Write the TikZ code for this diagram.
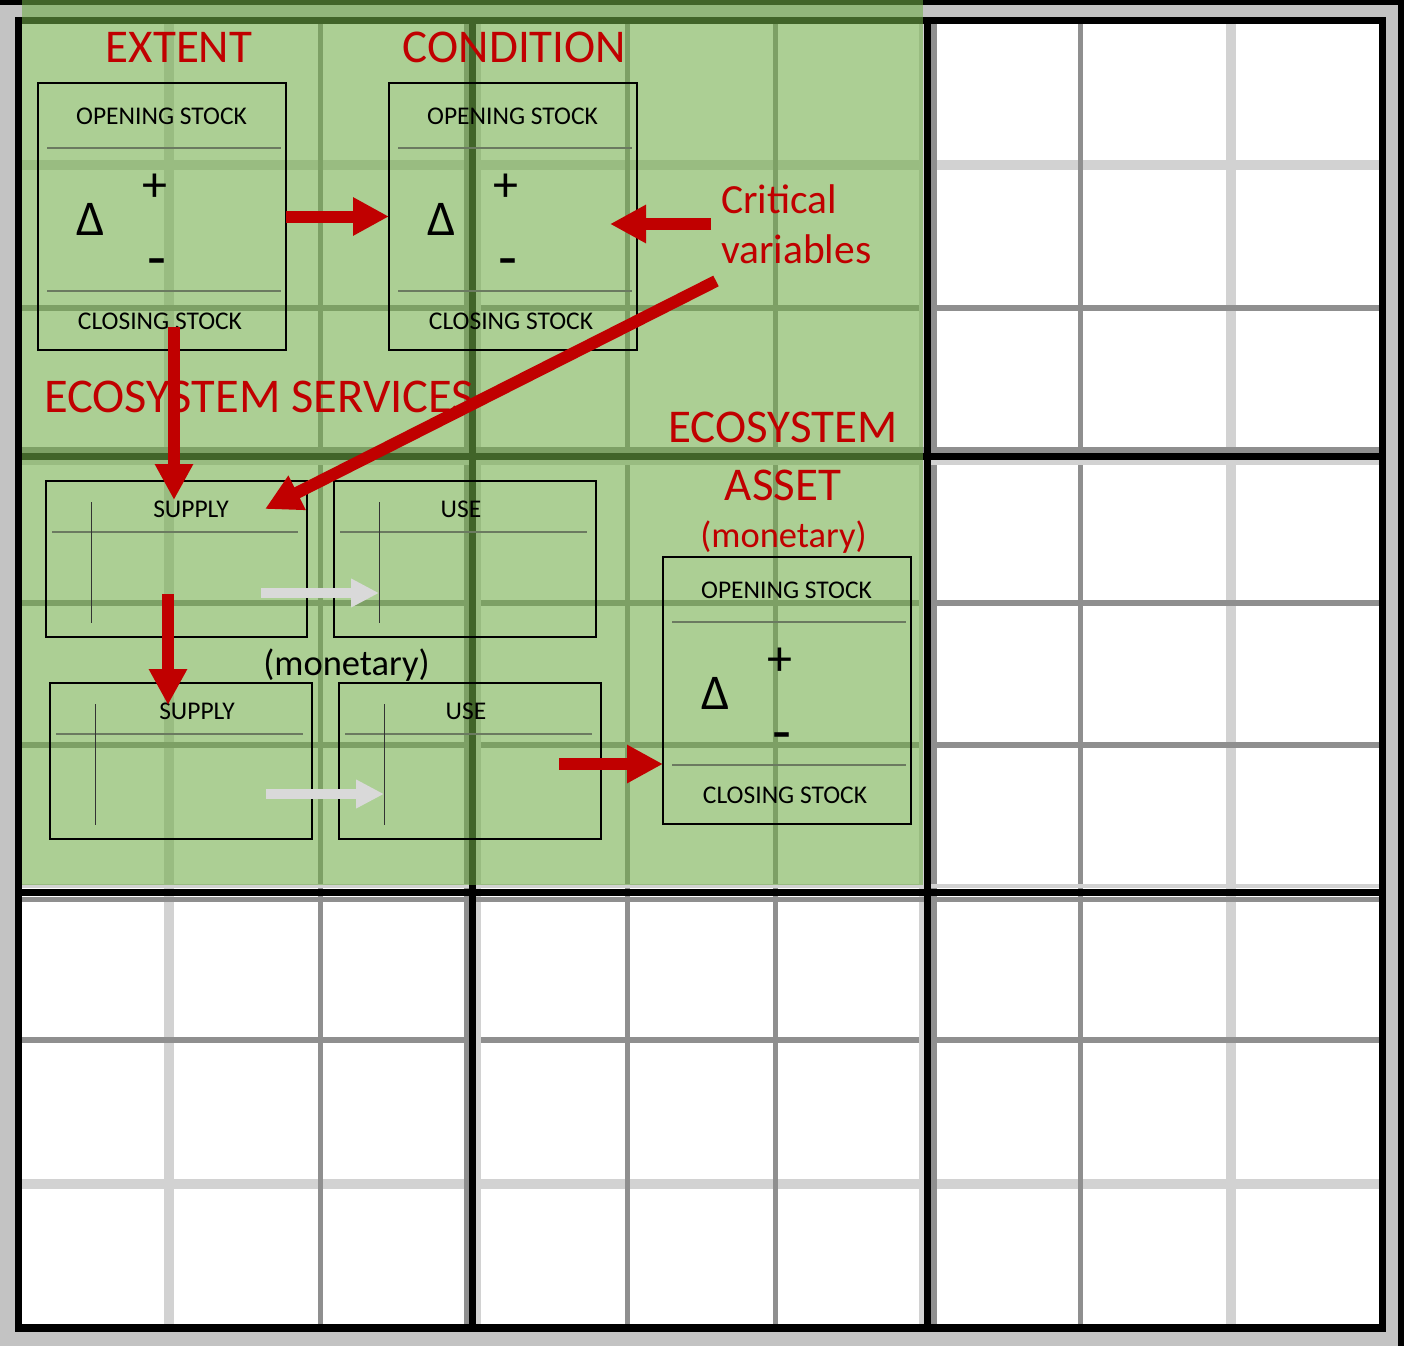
\documentclass[tikz,border=0pt]{standalone}
\usepackage{fontspec}
\setmainfont{Carlito}
\usetikzlibrary{arrows.meta,calc}
\definecolor{arrred}{HTML}{C00000}
\definecolor{framegray}{HTML}{C3C3C3}
\definecolor{midgray}{HTML}{8F8F8F}
\definecolor{lightgray2}{HTML}{D2D2D2}
\definecolor{ovgreen}{HTML}{70AD47}
\definecolor{innerln}{HTML}{6B7A60}
\definecolor{garrow}{HTML}{D9D9D9}
\tikzset{
  hd/.style={text=arrred, font=\fontsize{47}{56}\selectfont, inner sep=0pt, anchor=base},
  hdl/.style={hd, anchor=base west},
  subl/.style={text=arrred, font=\fontsize{41.5}{50}\selectfont, inner sep=0pt, anchor=base west},
  mon/.style={font=\fontsize{36.5}{44}\selectfont, inner sep=0pt, anchor=base},
  stxt/.style={font=\fontsize{25.5}{30}\selectfont, inner sep=0pt, anchor=base},
  bigsym/.style={font=\fontsize{50}{60}\selectfont, inner sep=0pt, anchor=base},
  minsym/.style={font=\fontsize{62}{70}\selectfont, inner sep=0pt, anchor=base},
  boxframe/.style={draw=black, line width=1.5pt, inner sep=0pt, outer sep=0pt, rectangle},
  innerline/.style={draw=innerln, line width=1.3pt},
  vline/.style={draw=black!80, line width=1pt},
  redarr/.style={draw=arrred, line width=12pt, -{Triangle[length=36pt,width=36pt]}},
  grayarr/.style={draw=garrow, line width=10pt, -{Triangle[length=28pt,width=27pt]}},
}
\newcommand\StockBox[3]{%
  \node[boxframe, minimum width=248pt, minimum height=267pt] (#1) at (#2+124,#3+133.5) {};
  \draw[innerline] ($(#1.north west)+(9,65)$) -- ($(#1.north west)+(243,65)$);
  \draw[innerline] ($(#1.north west)+(9,208)$) -- ($(#1.north west)+(243,208)$);
  \node[stxt] (#1-open) at ($(#1.north west)+(123.5,41)$) {OPENING STOCK};
  \node[stxt] (#1-close) at ($(#1.north west)+(122,246)$) {CLOSING STOCK};
  \node[bigsym] (#1-delta) at ($(#1.north west)+(53,152)$) {Δ};
  \node[bigsym] (#1-plus) at ($(#1.north west)+(117,118)$) {+};
  \node[minsym] (#1-minus) at ($(#1.north west)+(119,195)$) {-};
}
\newcommand\TableBox[6]{%
  \node[boxframe, minimum width=#4pt, minimum height=156pt] (#1) at (#2+#4/2,#3+78) {};
  \draw[innerline] ($(#1.north west)+(6,51)$) -- ($(#1.north east)+(-9,51)$);
  \draw[vline] ($(#1.north west)+(45,21)$) -- ($(#1.north west)+(45,142)$);
  \node[stxt] (#1-lbl) at ($(#1.north west)+(#6,36)$) {#5};
}
\begin{document}
\begin{tikzpicture}[x=1pt,y=-1pt]
\useasboundingbox (0,0) rectangle (1404,1346);
% background frame
\fill[black] (0,0) rectangle (1404,1346);
\fill[framegray] (0,5) rectangle (1398,1346);
\fill[black] (15,17) rectangle (1386,1332);
\fill[white] (22,24) rectangle (1379,1324);
% minor grid
\foreach \x in {169,1231} \draw[lightgray2, line width=10pt] (\x,24) -- (\x,1324);
\foreach \y in {165,1184} \draw[lightgray2, line width=10pt] (22,\y) -- (1379,\y);
\foreach \x in {320,627,775,1080} \draw[midgray, line width=5pt] (\x,24) -- (\x,1324);
\foreach \y in {308,603,745,1040} \draw[midgray, line width=5.5pt] (22,\y) -- (1379,\y);
% major grid with shadows
\draw[midgray, line width=5pt] (466.5,24) -- (466.5,1324);
\draw[lightgray2, line width=6pt] (478,24) -- (478,1324);
\draw[lightgray2, line width=5pt] (921.5,24) -- (921.5,1324);
\draw[midgray, line width=6pt] (934,24) -- (934,1324);
\draw[midgray, line width=6pt] (22,450) -- (1379,450);
\draw[lightgray2, line width=5pt] (22,462.5) -- (1379,462.5);
\draw[lightgray2, line width=4pt] (22,886) -- (1379,886);
\draw[midgray, line width=5pt] (22,899.5) -- (1379,899.5);
\draw[black, line width=7pt] (472,24) -- (472,1324);
\draw[black, line width=7pt] (927.5,24) -- (927.5,1324);
\draw[black, line width=7pt] (22,456.5) -- (1379,456.5);
\draw[black, line width=7pt] (22,892.5) -- (1379,892.5);
% green overlay
\fill[ovgreen, fill opacity=0.58] (22,0) rectangle (923,885);
% headings
\node[hd] (extent) at (179,63) {EXTENT};
\node[hd] (condition) at (514.5,63) {CONDITION};
\node[hdl, font=\fontsize{48.5}{58}\selectfont] (ess) at (44,412) {ECOSYSTEM SERVICES};
\node[hd] (eco) at (783,442) {ECOSYSTEM};
\node[hd] (asset) at (783,500) {ASSET};
\node[mon, text=arrred] (monred) at (783.5,547) {(monetary)};
\node[mon] (monblk) at (346.5,675) {(monetary)};
\node[subl] (crit) at (721,213) {Critical};
\node[subl] (vars) at (721,263) {variables};
% boxes
\StockBox{ext}{38}{83}
\StockBox{cond}{389}{83}
\StockBox{ast}{663}{557}
\TableBox{sup1}{46}{481}{261}{SUPPLY}{145}
\TableBox{use1}{334}{481}{262}{USE}{127}
\TableBox{sup2}{50}{683}{262}{SUPPLY}{147}
\TableBox{use2}{339}{683}{262}{USE}{127}
% connectors
\coordinate (cvA) at (711,224);
\coordinate (cvB) at (610,224);
\coordinate (dgA) at (716,281);
\coordinate (dgB) at (265,509);
\coordinate (v1A) at (174,327);
\coordinate (v1B) at (174,500);
\coordinate (v2A) at (168,594);
\coordinate (v2B) at (168,705);
\coordinate (g1A) at (261,593);
\coordinate (g1B) at (379,593);
\coordinate (g2A) at (266,794);
\coordinate (g2B) at (384,794);
\coordinate (asA) at (559,764);
\draw[redarr] (ext.east) -- (cond.west);
\draw[redarr] (cvA) -- (cvB);
\draw[redarr] (dgA) -- (dgB);
\draw[redarr] (v1A) -- (v1B);
\draw[redarr] (v2A) -- (v2B);
\draw[grayarr] (g1A) -- (g1B);
\draw[grayarr] (g2A) -- (g2B);
\draw[redarr] (asA) -- (asA -| ast.west);
\end{tikzpicture}
\end{document}
